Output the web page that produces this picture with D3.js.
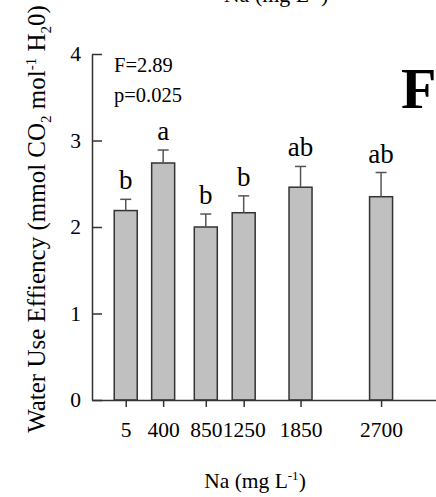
<!DOCTYPE html>
<html>
<head>
<meta charset="utf-8">
<script src="https://cdn.jsdelivr.net/npm/d3@7"></script>
<style>
  body { margin: 0; background: #fff; }
  text { font-family: "Liberation Serif", "Times New Roman", serif; fill: #000; }
</style>
</head>
<body>
<div id="plot"></div>
<script>
// data
const naLevels = [5, 400, 850, 1250, 1850, 2700];
const wue = [2.19, 2.74, 2.00, 2.165, 2.46, 2.35];
const wueErr = [0.13, 0.15, 0.15, 0.195, 0.24, 0.28];
const groups = ["b", "a", "b", "b", "ab", "ab"];
const yTicks = [0, 1, 2, 3, 4];

const width = 436, height = 497;
const barW = 23;

const svg = d3.select("#plot")
  .append("svg")
  .attr("width", width)
  .attr("height", height);

const x = d3.scaleLinear()
  .domain([-351, 3322])
  .range([92, 440]);

const y = d3.scaleLinear()
  .domain([0, 4])
  .range([400, 54]);

// bars
svg.selectAll(".bar")
  .data(naLevels)
  .enter()
  .append("rect")
  .attr("class", "bar")
  .attr("x", d => x(d) - barW / 2)
  .attr("y", (d, i) => y(wue[i]))
  .attr("width", barW)
  .attr("height", (d, i) => y(0) - y(wue[i]))
  .attr("fill", "#c0c0c0")
  .attr("stroke", "#333")
  .attr("stroke-width", 1.5);

// error bars (upper only)
const err = svg.append("g")
  .attr("stroke", "#555")
  .attr("stroke-width", 1.5);

naLevels.forEach((d, i) => {
  const top = y(wue[i] + wueErr[i]);
  err.append("line")
    .attr("x1", x(d)).attr("x2", x(d))
    .attr("y1", y(wue[i])).attr("y2", top);
  err.append("line")
    .attr("x1", x(d) - 5.5).attr("x2", x(d) + 5.5)
    .attr("y1", top).attr("y2", top);
});

// significance letters
svg.selectAll(".grp")
  .data(naLevels)
  .enter()
  .append("text")
  .attr("class", "grp")
  .attr("x", d => x(d))
  .attr("y", (d, i) => y(wue[i] + wueErr[i]) - 10)
  .attr("text-anchor", "middle")
  .style("font-size", "27px")
  .text((d, i) => groups[i]);

// axes
const xAxis = d3.axisBottom(x)
  .tickValues(naLevels)
  .tickFormat(d3.format("d"))
  .tickSize(7)
  .tickSizeOuter(0)
  .tickPadding(15);

const yAxis = d3.axisLeft(y)
  .tickValues(yTicks)
  .tickFormat(d3.format("d"))
  .tickSize(-10)
  .tickSizeOuter(0)
  .tickPadding(11);

const xg = svg.append("g")
  .attr("transform", `translate(0,${y(0)})`)
  .call(xAxis);

const yg = svg.append("g")
  .attr("transform", `translate(${x.range()[0]},0)`)
  .call(yAxis);

[xg, yg].forEach(g => {
  g.select(".domain").attr("stroke", "#333").attr("stroke-width", 1.5);
  g.selectAll(".tick line").attr("stroke", "#333").attr("stroke-width", 1.5);
  g.selectAll(".tick text")
    .style("font-family", "'Liberation Serif', 'Times New Roman', serif")
    .style("font-size", "21.5px")
    .attr("fill", "#000");
});

// axis titles
const xTitle = svg.append("text")
  .attr("x", 255)
  .attr("y", 488)
  .attr("text-anchor", "middle")
  .style("font-size", "21.5px");
xTitle.append("tspan").text("Na (mg L");
xTitle.append("tspan").attr("dy", -8).style("font-size", "13px").text("-1");
xTitle.append("tspan").attr("dy", 8).text(")");

const yTitle = svg.append("text")
  .attr("transform", "translate(45,219) rotate(-90)")
  .attr("text-anchor", "middle")
  .style("font-size", "25px");
yTitle.append("tspan").text("Water Use Effiency (mmol CO");
yTitle.append("tspan").attr("dy", 6).style("font-size", "15px").text("2");
yTitle.append("tspan").attr("dy", -6).text(" mol");
yTitle.append("tspan").attr("dy", -9).style("font-size", "15px").text("-1");
yTitle.append("tspan").attr("dy", 9).text(" H");
yTitle.append("tspan").attr("dy", 6).style("font-size", "15px").text("2");
yTitle.append("tspan").attr("dy", -6).text("0)");

// stats
svg.append("text").attr("x", 114).attr("y", 72).style("font-size", "20.5px").text("F=2.89");
svg.append("text").attr("x", 114).attr("y", 102).style("font-size", "20.5px").text("p=0.025");

// panel letter
svg.append("text")
  .attr("x", 401).attr("y", 108)
  .style("font-size", "58px")
  .style("font-weight", "bold")
  .text("F");

// bottom sliver of the panel above
const prev = svg.append("text")
  .attr("x", 276)
  .attr("y", 2)
  .attr("text-anchor", "middle")
  .style("font-size", "22px");
prev.append("tspan").text("Na (mg L");
prev.append("tspan").attr("dy", -8).style("font-size", "14px").text("-1");
prev.append("tspan").attr("dy", 8).text(")");
</script>
</body>
</html>
